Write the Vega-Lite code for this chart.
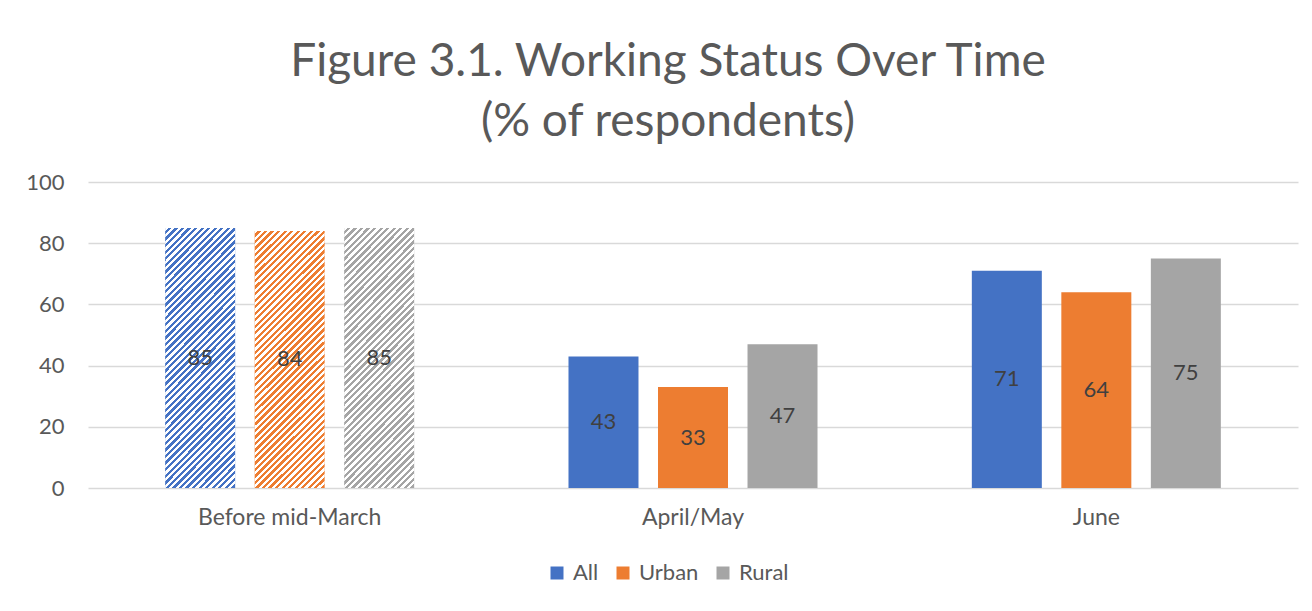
{
  "$schema": "https://vega.github.io/schema/vega-lite/v6.json",
  "width": 1210,
  "height": 306,
  "autosize": {"type": "none"},
  "padding": {"left": 88, "top": 182, "right": 14, "bottom": 123},
  "background": "#ffffff",
  "title": {
    "text": ["Figure 3.1. Working Status Over Time", "(% of respondents)"],
    "fontSize": 46,
    "font": "Lato",
    "fontWeight": "normal",
    "color": "#595959",
    "anchor": "middle",
    "dx": -25,
    "offset": 25,
    "lineHeight": 60
  },
  "config": {
    "view": {"stroke": null},
    "font": "Lato"
  },
  "data": {
    "values": [
      {"period": "Before mid-March", "group": "All", "value": 85},
      {"period": "Before mid-March", "group": "Urban", "value": 84},
      {"period": "Before mid-March", "group": "Rural", "value": 85},
      {"period": "April/May", "group": "All", "value": 43},
      {"period": "April/May", "group": "Urban", "value": 33},
      {"period": "April/May", "group": "Rural", "value": 47},
      {"period": "June", "group": "All", "value": 71},
      {"period": "June", "group": "Urban", "value": 64},
      {"period": "June", "group": "Rural", "value": 75}
    ]
  },
  "layer": [
    {
      "layer": [
        {
          "mark": {"type": "bar"},
          "encoding": {
            "x": {
              "field": "period", "type": "nominal",
              "scale": {"domain": ["Before mid-March", "April/May", "June"], "paddingInner": 0, "paddingOuter": 0},
              "axis": {"title": null, "domain": false, "ticks": false, "labelAngle": 0, "labelFontSize": 23, "labelColor": "#595959", "labelPadding": 18, "labelLimit": 400}
            },
            "xOffset": {
              "field": "group", "type": "nominal",
              "scale": {"domain": ["All", "Urban", "Rural"], "paddingInner": 0.218, "paddingOuter": 0.862}
            },
            "y": {
              "field": "value", "type": "quantitative",
              "scale": {"domain": [0, 100]},
              "axis": {"title": null, "values": [0, 20, 40, 60, 80, 100], "grid": true, "gridColor": "#D9D9D9", "gridWidth": 1.5, "domain": false, "ticks": false, "labelFontSize": 22, "labelColor": "#595959", "labelPadding": 24}
            },
            "color": {
              "field": "group", "type": "nominal",
              "scale": {"domain": ["All", "Urban", "Rural"], "range": ["#4472C4", "#ED7D31", "#A5A5A5"]},
              "legend": {"orient": "none", "legendX": 458, "legendY": 380, "direction": "horizontal", "title": null, "symbolType": "square", "symbolSize": 169, "symbolStrokeWidth": 0, "labelFontSize": 22, "labelColor": "#595959", "columnPadding": 13, "labelOffset": 5}
            }
          }
        },
        {
          "transform": [{"filter": "datum.period === 'Before mid-March'"}],
          "mark": {
            "type": "bar",
            "fill": {
              "gradient": "linear", "x1": 0, "y1": 0, "x2": 0.32, "y2": 1.18,
              "stops": [
                {"offset": 0, "color": "#fff"}, {"offset": 0.01, "color": "#fff"},
                {"offset": 0.01, "color": "rgba(255,255,255,0)"}, {"offset": 0.02, "color": "rgba(255,255,255,0)"},
                {"offset": 0.02, "color": "#fff"}, {"offset": 0.03, "color": "#fff"},
                {"offset": 0.03, "color": "rgba(255,255,255,0)"}, {"offset": 0.04, "color": "rgba(255,255,255,0)"},
                {"offset": 0.04, "color": "#fff"}, {"offset": 0.05, "color": "#fff"},
                {"offset": 0.05, "color": "rgba(255,255,255,0)"}, {"offset": 0.06, "color": "rgba(255,255,255,0)"},
                {"offset": 0.06, "color": "#fff"}, {"offset": 0.07, "color": "#fff"},
                {"offset": 0.07, "color": "rgba(255,255,255,0)"}, {"offset": 0.08, "color": "rgba(255,255,255,0)"},
                {"offset": 0.08, "color": "#fff"}, {"offset": 0.09, "color": "#fff"},
                {"offset": 0.09, "color": "rgba(255,255,255,0)"}, {"offset": 0.1, "color": "rgba(255,255,255,0)"},
                {"offset": 0.1, "color": "#fff"}, {"offset": 0.11, "color": "#fff"},
                {"offset": 0.11, "color": "rgba(255,255,255,0)"}, {"offset": 0.12, "color": "rgba(255,255,255,0)"},
                {"offset": 0.12, "color": "#fff"}, {"offset": 0.13, "color": "#fff"},
                {"offset": 0.13, "color": "rgba(255,255,255,0)"}, {"offset": 0.14, "color": "rgba(255,255,255,0)"},
                {"offset": 0.14, "color": "#fff"}, {"offset": 0.15, "color": "#fff"},
                {"offset": 0.15, "color": "rgba(255,255,255,0)"}, {"offset": 0.16, "color": "rgba(255,255,255,0)"},
                {"offset": 0.16, "color": "#fff"}, {"offset": 0.17, "color": "#fff"},
                {"offset": 0.17, "color": "rgba(255,255,255,0)"}, {"offset": 0.18, "color": "rgba(255,255,255,0)"},
                {"offset": 0.18, "color": "#fff"}, {"offset": 0.19, "color": "#fff"},
                {"offset": 0.19, "color": "rgba(255,255,255,0)"}, {"offset": 0.2, "color": "rgba(255,255,255,0)"},
                {"offset": 0.2, "color": "#fff"}, {"offset": 0.21, "color": "#fff"},
                {"offset": 0.21, "color": "rgba(255,255,255,0)"}, {"offset": 0.22, "color": "rgba(255,255,255,0)"},
                {"offset": 0.22, "color": "#fff"}, {"offset": 0.23, "color": "#fff"},
                {"offset": 0.23, "color": "rgba(255,255,255,0)"}, {"offset": 0.24, "color": "rgba(255,255,255,0)"},
                {"offset": 0.24, "color": "#fff"}, {"offset": 0.25, "color": "#fff"},
                {"offset": 0.25, "color": "rgba(255,255,255,0)"}, {"offset": 0.26, "color": "rgba(255,255,255,0)"},
                {"offset": 0.26, "color": "#fff"}, {"offset": 0.27, "color": "#fff"},
                {"offset": 0.27, "color": "rgba(255,255,255,0)"}, {"offset": 0.28, "color": "rgba(255,255,255,0)"},
                {"offset": 0.28, "color": "#fff"}, {"offset": 0.29, "color": "#fff"},
                {"offset": 0.29, "color": "rgba(255,255,255,0)"}, {"offset": 0.3, "color": "rgba(255,255,255,0)"},
                {"offset": 0.3, "color": "#fff"}, {"offset": 0.31, "color": "#fff"},
                {"offset": 0.31, "color": "rgba(255,255,255,0)"}, {"offset": 0.32, "color": "rgba(255,255,255,0)"},
                {"offset": 0.32, "color": "#fff"}, {"offset": 0.33, "color": "#fff"},
                {"offset": 0.33, "color": "rgba(255,255,255,0)"}, {"offset": 0.34, "color": "rgba(255,255,255,0)"},
                {"offset": 0.34, "color": "#fff"}, {"offset": 0.35, "color": "#fff"},
                {"offset": 0.35, "color": "rgba(255,255,255,0)"}, {"offset": 0.36, "color": "rgba(255,255,255,0)"},
                {"offset": 0.36, "color": "#fff"}, {"offset": 0.37, "color": "#fff"},
                {"offset": 0.37, "color": "rgba(255,255,255,0)"}, {"offset": 0.38, "color": "rgba(255,255,255,0)"},
                {"offset": 0.38, "color": "#fff"}, {"offset": 0.39, "color": "#fff"},
                {"offset": 0.39, "color": "rgba(255,255,255,0)"}, {"offset": 0.4, "color": "rgba(255,255,255,0)"},
                {"offset": 0.4, "color": "#fff"}, {"offset": 0.41, "color": "#fff"},
                {"offset": 0.41, "color": "rgba(255,255,255,0)"}, {"offset": 0.42, "color": "rgba(255,255,255,0)"},
                {"offset": 0.42, "color": "#fff"}, {"offset": 0.43, "color": "#fff"},
                {"offset": 0.43, "color": "rgba(255,255,255,0)"}, {"offset": 0.44, "color": "rgba(255,255,255,0)"},
                {"offset": 0.44, "color": "#fff"}, {"offset": 0.45, "color": "#fff"},
                {"offset": 0.45, "color": "rgba(255,255,255,0)"}, {"offset": 0.46, "color": "rgba(255,255,255,0)"},
                {"offset": 0.46, "color": "#fff"}, {"offset": 0.47, "color": "#fff"},
                {"offset": 0.47, "color": "rgba(255,255,255,0)"}, {"offset": 0.48, "color": "rgba(255,255,255,0)"},
                {"offset": 0.48, "color": "#fff"}, {"offset": 0.49, "color": "#fff"},
                {"offset": 0.49, "color": "rgba(255,255,255,0)"}, {"offset": 0.5, "color": "rgba(255,255,255,0)"},
                {"offset": 0.5, "color": "#fff"}, {"offset": 0.51, "color": "#fff"},
                {"offset": 0.51, "color": "rgba(255,255,255,0)"}, {"offset": 0.52, "color": "rgba(255,255,255,0)"},
                {"offset": 0.52, "color": "#fff"}, {"offset": 0.53, "color": "#fff"},
                {"offset": 0.53, "color": "rgba(255,255,255,0)"}, {"offset": 0.54, "color": "rgba(255,255,255,0)"},
                {"offset": 0.54, "color": "#fff"}, {"offset": 0.55, "color": "#fff"},
                {"offset": 0.55, "color": "rgba(255,255,255,0)"}, {"offset": 0.56, "color": "rgba(255,255,255,0)"},
                {"offset": 0.56, "color": "#fff"}, {"offset": 0.57, "color": "#fff"},
                {"offset": 0.57, "color": "rgba(255,255,255,0)"}, {"offset": 0.58, "color": "rgba(255,255,255,0)"},
                {"offset": 0.58, "color": "#fff"}, {"offset": 0.59, "color": "#fff"},
                {"offset": 0.59, "color": "rgba(255,255,255,0)"}, {"offset": 0.6, "color": "rgba(255,255,255,0)"},
                {"offset": 0.6, "color": "#fff"}, {"offset": 0.61, "color": "#fff"},
                {"offset": 0.61, "color": "rgba(255,255,255,0)"}, {"offset": 0.62, "color": "rgba(255,255,255,0)"},
                {"offset": 0.62, "color": "#fff"}, {"offset": 0.63, "color": "#fff"},
                {"offset": 0.63, "color": "rgba(255,255,255,0)"}, {"offset": 0.64, "color": "rgba(255,255,255,0)"},
                {"offset": 0.64, "color": "#fff"}, {"offset": 0.65, "color": "#fff"},
                {"offset": 0.65, "color": "rgba(255,255,255,0)"}, {"offset": 0.66, "color": "rgba(255,255,255,0)"},
                {"offset": 0.66, "color": "#fff"}, {"offset": 0.67, "color": "#fff"},
                {"offset": 0.67, "color": "rgba(255,255,255,0)"}, {"offset": 0.68, "color": "rgba(255,255,255,0)"},
                {"offset": 0.68, "color": "#fff"}, {"offset": 0.69, "color": "#fff"},
                {"offset": 0.69, "color": "rgba(255,255,255,0)"}, {"offset": 0.7, "color": "rgba(255,255,255,0)"},
                {"offset": 0.7, "color": "#fff"}, {"offset": 0.71, "color": "#fff"},
                {"offset": 0.71, "color": "rgba(255,255,255,0)"}, {"offset": 0.72, "color": "rgba(255,255,255,0)"},
                {"offset": 0.72, "color": "#fff"}, {"offset": 0.73, "color": "#fff"},
                {"offset": 0.73, "color": "rgba(255,255,255,0)"}, {"offset": 0.74, "color": "rgba(255,255,255,0)"},
                {"offset": 0.74, "color": "#fff"}, {"offset": 0.75, "color": "#fff"},
                {"offset": 0.75, "color": "rgba(255,255,255,0)"}, {"offset": 0.76, "color": "rgba(255,255,255,0)"},
                {"offset": 0.76, "color": "#fff"}, {"offset": 0.77, "color": "#fff"},
                {"offset": 0.77, "color": "rgba(255,255,255,0)"}, {"offset": 0.78, "color": "rgba(255,255,255,0)"},
                {"offset": 0.78, "color": "#fff"}, {"offset": 0.79, "color": "#fff"},
                {"offset": 0.79, "color": "rgba(255,255,255,0)"}, {"offset": 0.8, "color": "rgba(255,255,255,0)"},
                {"offset": 0.8, "color": "#fff"}, {"offset": 0.81, "color": "#fff"},
                {"offset": 0.81, "color": "rgba(255,255,255,0)"}, {"offset": 0.82, "color": "rgba(255,255,255,0)"},
                {"offset": 0.82, "color": "#fff"}, {"offset": 0.83, "color": "#fff"},
                {"offset": 0.83, "color": "rgba(255,255,255,0)"}, {"offset": 0.84, "color": "rgba(255,255,255,0)"},
                {"offset": 0.84, "color": "#fff"}, {"offset": 0.85, "color": "#fff"},
                {"offset": 0.85, "color": "rgba(255,255,255,0)"}, {"offset": 0.86, "color": "rgba(255,255,255,0)"},
                {"offset": 0.86, "color": "#fff"}, {"offset": 0.87, "color": "#fff"},
                {"offset": 0.87, "color": "rgba(255,255,255,0)"}, {"offset": 0.88, "color": "rgba(255,255,255,0)"},
                {"offset": 0.88, "color": "#fff"}, {"offset": 0.89, "color": "#fff"},
                {"offset": 0.89, "color": "rgba(255,255,255,0)"}, {"offset": 0.9, "color": "rgba(255,255,255,0)"},
                {"offset": 0.9, "color": "#fff"}, {"offset": 0.91, "color": "#fff"},
                {"offset": 0.91, "color": "rgba(255,255,255,0)"}, {"offset": 0.92, "color": "rgba(255,255,255,0)"},
                {"offset": 0.92, "color": "#fff"}, {"offset": 0.93, "color": "#fff"},
                {"offset": 0.93, "color": "rgba(255,255,255,0)"}, {"offset": 0.94, "color": "rgba(255,255,255,0)"},
                {"offset": 0.94, "color": "#fff"}, {"offset": 0.95, "color": "#fff"},
                {"offset": 0.95, "color": "rgba(255,255,255,0)"}, {"offset": 0.96, "color": "rgba(255,255,255,0)"},
                {"offset": 0.96, "color": "#fff"}, {"offset": 0.97, "color": "#fff"},
                {"offset": 0.97, "color": "rgba(255,255,255,0)"}, {"offset": 0.98, "color": "rgba(255,255,255,0)"},
                {"offset": 0.98, "color": "#fff"}, {"offset": 0.99, "color": "#fff"},
                {"offset": 0.99, "color": "rgba(255,255,255,0)"}, {"offset": 1, "color": "rgba(255,255,255,0)"}
              ]
            }
          },
          "encoding": {
            "x": {"field": "period", "type": "nominal"},
            "xOffset": {"field": "group", "type": "nominal"},
            "y": {"field": "value", "type": "quantitative"}
          }
        }
      ]
    },
    {
      "mark": {"type": "text", "fontSize": 22, "color": "#404040", "baseline": "middle", "align": "center"},
      "encoding": {
        "x": {"field": "period", "type": "nominal"},
        "xOffset": {"field": "group", "type": "nominal"},
        "y": {"field": "value", "type": "quantitative", "scale": {"domain": [0, 200]}, "axis": null},
        "text": {"field": "value", "type": "quantitative"}
      }
    }
  ],
  "resolve": {"scale": {"y": "independent"}}
}
